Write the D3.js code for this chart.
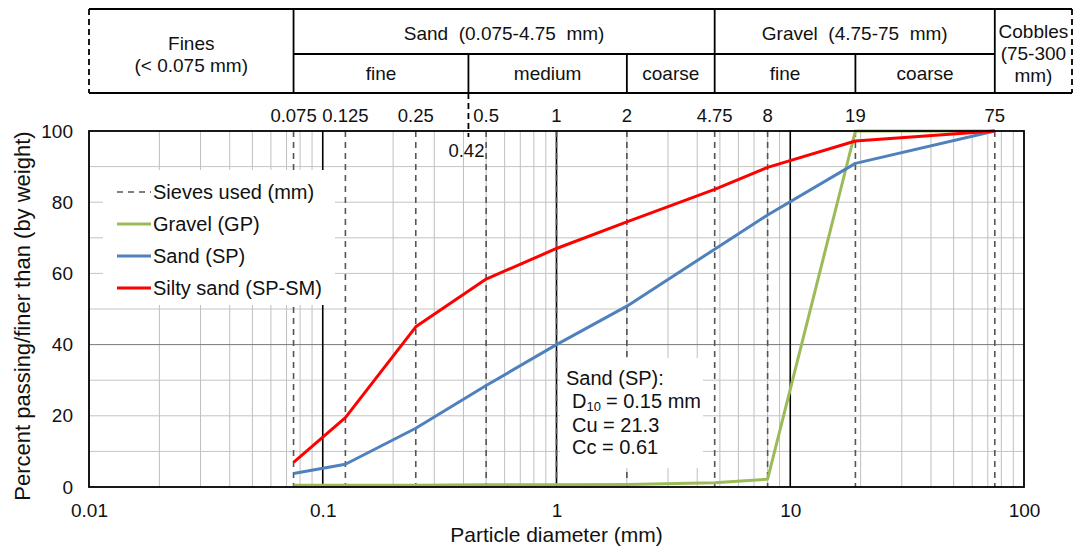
<!DOCTYPE html>
<html>
<head>
<meta charset="utf-8">
<script src="https://cdn.jsdelivr.net/npm/d3@7"></script>
<style>
  body { margin: 0; background: #fff; }
  text { font-family: "Liberation Sans", Arial, sans-serif; fill: #111; }
</style>
</head>
<body>
<script>
// sieve sizes where the samples were measured (mm)
const sieve_sizes = [0.075, 0.125, 0.25, 0.5, 1, 2, 4.75, 8, 19, 75];
const sieve_labels = ["0.075", "0.125", "0.25", "0.5", "1", "2", "4.75", "8", "19", "75"];

// percent passing for each sample
const gravel_gp = [0.5, 0.5, 0.5, 0.6, 0.6, 0.7, 1.2, 2.2, 100, 100];
const sand_sp = [3.8, 6.4, 16.5, 28.5, 40, 50.8, 66.8, 76.4, 90.9, 100];
const silty_sand = [6.9, 19.5, 45, 58.4, 67, 74.5, 83.6, 89.8, 97.2, 100];

const series_names = ["Gravel (GP)", "Sand (SP)", "Silty sand (SP-SM)"];
const series_colors = ["#9bbb59", "#4f81bd", "#ff0000"];

const x_ticks = [0.01, 0.1, 1, 10, 100];
const y_ticks = [0, 20, 40, 60, 80, 100];

// soil classes for the header band
const main_classes = [
    {name: ["Fines", "(< 0.075 mm)"], from: 0.01, to: 0.075},
    {name: ["Sand  (0.075-4.75  mm)"], from: 0.075, to: 4.75},
    {name: ["Gravel  (4.75-75  mm)"], from: 4.75, to: 75},
    {name: ["Cobbles", "(75-300", "mm)"], from: 75, to: null}
];
const sub_classes = [
    {name: "fine", from: 0.075, to: 0.42},
    {name: "medium", from: 0.42, to: 2},
    {name: "coarse", from: 2, to: 4.75},
    {name: "fine", from: 4.75, to: 19},
    {name: "coarse", from: 19, to: 75}
];

const W = 1075, H = 546;
const plot = {left: 89, right: 1024, top: 131, bottom: 487};
const header = {top: 9, mid: 54, bottom: 93, right: 1072};

const x = d3.scaleLog().domain([0.01, 100]).range([plot.left, plot.right]);
const y = d3.scaleLinear().domain([0, 100]).range([plot.bottom, plot.top]);

const svg = d3.select("body").append("svg")
    .attr("width", W)
    .attr("height", H);

svg.append("rect").attr("width", W).attr("height", H).attr("fill", "#fff");

// grid
const grid = svg.append("g");
const minor_x = x.ticks().filter(d => Math.abs(Math.log10(d) - Math.round(Math.log10(d))) > 1e-6);
grid.selectAll("line.vx")
    .data(minor_x)
    .enter().append("line")
    .attr("x1", d => x(d)).attr("x2", d => x(d))
    .attr("y1", plot.top).attr("y2", plot.bottom)
    .attr("stroke", "#bfbfbf").attr("stroke-width", 1);

grid.selectAll("line.hy")
    .data(d3.range(10, 100, 10))
    .enter().append("line")
    .attr("x1", plot.left).attr("x2", plot.right)
    .attr("y1", d => y(d)).attr("y2", d => y(d))
    .attr("stroke", d => d === 40 ? "#7a7a7a" : "#c4c4c4").attr("stroke-width", 1);

// decade lines
grid.selectAll("line.dec")
    .data([0.1, 1, 10])
    .enter().append("line")
    .attr("x1", d => x(d)).attr("x2", d => x(d))
    .attr("y1", plot.top).attr("y2", plot.bottom)
    .attr("stroke", "#000").attr("stroke-width", 1.6);

// sieves used
grid.selectAll("line.sieve")
    .data(sieve_sizes)
    .enter().append("line")
    .attr("x1", d => x(d)).attr("x2", d => x(d))
    .attr("y1", plot.top).attr("y2", plot.bottom)
    .attr("stroke", "#555").attr("stroke-width", 1.6)
    .attr("stroke-dasharray", "6,5");

// legend box
const legend = svg.append("g");
legend.append("rect")
    .attr("x", 103).attr("y", 170).attr("width", 232).attr("height", 135)
    .attr("fill", "#fff");
const legend_items = [{name: "Sieves used (mm)", color: "#555", dash: "6,5", width: 1.6}]
    .concat(series_names.map((n, i) => ({name: n, color: series_colors[i], dash: null, width: 3})));
legend_items.forEach((item, i) => {
    const ly = 192 + i * 32;
    legend.append("line")
        .attr("x1", 117).attr("x2", 151)
        .attr("y1", ly).attr("y2", ly)
        .attr("stroke", item.color).attr("stroke-width", item.width)
        .attr("stroke-dasharray", item.dash);
    legend.append("text")
        .attr("x", 153).attr("y", ly)
        .attr("dy", "0.35em")
        .style("font-size", "20px")
        .text(item.name);
});

// annotation box
const note = svg.append("g").style("font-size", "20px");
note.append("rect")
    .attr("x", 560).attr("y", 358).attr("width", 143).attr("height", 110)
    .attr("fill", "#fff");
note.append("text").attr("x", 566).attr("y", 385).text("Sand (SP):");
const d_main = note.append("text").attr("x", 572).attr("y", 408).text("D");
let nx = 572 + d_main.node().getComputedTextLength();
const d_sub = note.append("text").attr("x", nx).attr("y", 410.5).style("font-size", "13px").text("10");
nx += d_sub.node().getComputedTextLength() + 5;
note.append("text").attr("x", nx).attr("y", 408).text("= 0.15 mm");
note.append("text").attr("x", 572).attr("y", 432).text("Cu = 21.3");
note.append("text").attr("x", 572).attr("y", 454).text("Cc = 0.61");

// curves
const line = d3.line()
    .x(d => x(d[0]))
    .y(d => y(d[1]));
[gravel_gp, sand_sp, silty_sand].forEach((values, i) => {
    svg.append("path")
        .datum(sieve_sizes.map((s, j) => [s, values[j]]))
        .attr("d", line)
        .attr("fill", "none")
        .attr("stroke", series_colors[i])
        .attr("stroke-width", 3)
        .attr("stroke-linejoin", "round");
});

// plot border
svg.append("rect")
    .attr("x", plot.left).attr("y", plot.top)
    .attr("width", plot.right - plot.left).attr("height", plot.bottom - plot.top)
    .attr("fill", "none").attr("stroke", "#000").attr("stroke-width", 1.8);

// axes
const x_axis = svg.append("g")
    .attr("transform", `translate(0,${plot.bottom})`)
    .call(d3.axisBottom(x).tickValues(x_ticks).tickFormat(d => String(d)).tickSize(0).tickPadding(17));
const y_axis = svg.append("g")
    .attr("transform", `translate(${plot.left},0)`)
    .call(d3.axisLeft(y).tickValues(y_ticks).tickSize(0).tickPadding(16));
[x_axis, y_axis].forEach(a => {
    a.select(".domain").remove();
    a.selectAll("text").style("font-size", "19px").attr("fill", "#111")
        .style("font-family", "'Liberation Sans', Arial, sans-serif");
});

svg.append("text")
    .attr("x", (plot.left + plot.right) / 2).attr("y", 542)
    .attr("text-anchor", "middle")
    .style("font-size", "21px")
    .text("Particle diameter (mm)");

svg.append("text")
    .attr("transform", `translate(30,316) rotate(-90)`)
    .attr("text-anchor", "middle")
    .style("font-size", "22px")
    .text("Percent passing/finer than (by weight)");

// sieve labels above the plot
svg.selectAll("text.sieve")
    .data(sieve_sizes)
    .enter().append("text")
    .attr("x", d => x(d)).attr("y", 116)
    .attr("dy", "0.35em")
    .attr("text-anchor", "middle")
    .style("font-size", "18.5px")
    .text((d, i) => sieve_labels[i]);

svg.append("text")
    .attr("x", x(0.42) - 2).attr("y", 151)
    .attr("dy", "0.35em")
    .attr("text-anchor", "middle")
    .style("font-size", "18.5px")
    .text("0.42");

// header band
const hdr = svg.append("g").attr("stroke", "#000").attr("stroke-width", 1.8);
const cell_right = d => d === null ? header.right : x(d);
hdr.append("line").attr("x1", plot.left).attr("x2", header.right).attr("y1", header.top).attr("y2", header.top);
hdr.append("line").attr("x1", plot.left).attr("x2", header.right).attr("y1", header.bottom).attr("y2", header.bottom);
hdr.append("line").attr("x1", x(0.075)).attr("x2", x(75)).attr("y1", header.mid).attr("y2", header.mid);
hdr.selectAll("line.main")
    .data([0.075, 4.75, 75])
    .enter().append("line")
    .attr("x1", d => x(d)).attr("x2", d => x(d))
    .attr("y1", header.top).attr("y2", header.bottom);
hdr.selectAll("line.sub")
    .data([0.42, 2, 19])
    .enter().append("line")
    .attr("x1", d => x(d)).attr("x2", d => x(d))
    .attr("y1", header.mid).attr("y2", header.bottom);
hdr.selectAll("line.edge")
    .data([plot.left, header.right])
    .enter().append("line")
    .attr("x1", d => d).attr("x2", d => d)
    .attr("y1", header.top).attr("y2", header.bottom)
    .attr("stroke-dasharray", "6,4");
hdr.append("line")
    .attr("x1", x(0.42)).attr("x2", x(0.42))
    .attr("y1", header.bottom).attr("y2", 137)
    .attr("stroke-dasharray", "6,4");

main_classes.forEach(c => {
    const cx = (x(c.from) + cell_right(c.to)) / 2;
    const start = c.name.length === 1 ? 33 : (c.name.length === 2 ? 43 : 31);
    c.name.forEach((t, i) => {
        svg.append("text")
            .attr("x", cx).attr("y", start + i * 22)
            .attr("dy", "0.35em")
            .attr("text-anchor", "middle")
            .style("font-size", "19px")
            .style("white-space", "pre")
            .attr("xml:space", "preserve")
            .text(t);
    });
});
sub_classes.forEach(c => {
    svg.append("text")
        .attr("x", (x(c.from) + x(c.to)) / 2).attr("y", 73)
        .attr("dy", "0.35em")
        .attr("text-anchor", "middle")
        .style("font-size", "19px")
        .text(c.name);
});
</script>
</body>
</html>
